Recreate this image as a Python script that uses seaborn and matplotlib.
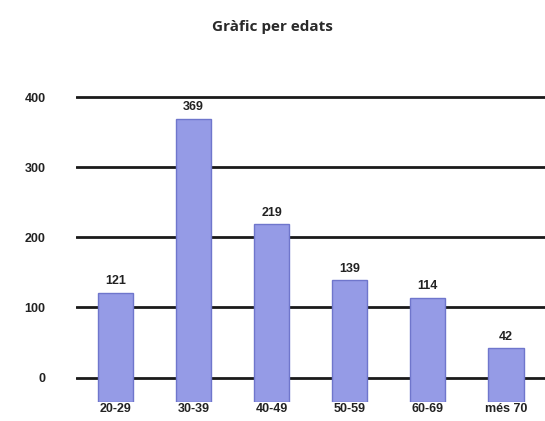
import numpy as np
import pandas as pd
import seaborn as sns
import matplotlib.pyplot as plt

# -- Gràfic per edats -- #

edats = ["20-29", "30-39", "40-49", "50-59", "60-69", "més 70"]
persones = [121, 369, 219, 139, 114, 42]
ticks_y = [0, 100, 200, 300, 400]

df = pd.DataFrame({"edat": edats, "persones": persones})

sns.set_style("white")
plt.rcParams["font.family"] = ["Liberation Sans", "DejaVu Sans"]

fig = plt.figure(figsize=(5.45, 4.21), dpi=100)
ax = fig.add_axes([0.14, 0.045, 0.86, 0.757])

# linies horitzontals
for t in ticks_y:
    ax.axhline(t, color="#1a1a1a", lw=2, zorder=1)

sns.barplot(data=df, x="edat", y="persones", color="#959be6", width=0.45,
            saturation=1, edgecolor="#6f76cc", linewidth=1, ax=ax, zorder=3)

# base de les barres per sota del zero (efecte perspectiva)
base = -35
for p in ax.patches:
    top = p.get_y() + p.get_height()
    p.set_y(base)
    p.set_height(top - base)

for i, v in enumerate(persones):
    ax.text(i, v + 8, str(v), ha="center", va="bottom", fontsize=9,
            fontweight="bold", color="#222222")

ax.set_ylim(-35, 420)
ax.set_xlim(-0.5, 5.5)
ax.set_yticks(ticks_y)
ax.set_yticklabels([str(t) for t in ticks_y], fontsize=9, fontweight="bold", color="#222222")
ax.set_xticks(range(len(edats)))
ax.set_xticklabels(edats, fontsize=9, fontweight="bold", color="#222222")
ax.tick_params(axis="y", length=0, pad=22)
ax.tick_params(axis="x", length=0, pad=1)
ax.set_xlabel("")
ax.set_ylabel("")
sns.despine(ax=ax, left=True, bottom=True)

fig.text(0.5, 0.935, "Gràfic per edats", ha="center", va="center",
         fontsize=11, fontweight="bold", color="#2a2a2a", family=["Open Sans", "DejaVu Sans"])

plt.savefig("out.png", dpi=100)
